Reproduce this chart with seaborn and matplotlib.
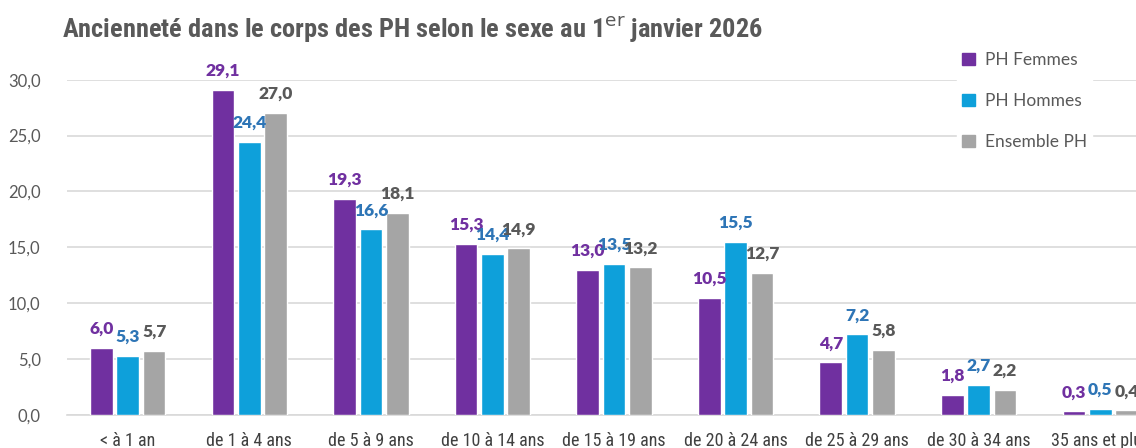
import pandas as pd
import matplotlib.pyplot as plt
import seaborn as sns
from matplotlib import font_manager

# -----------------------------
# Data
# -----------------------------
categories = ["< à 1 an", "de 1 à 4 ans", "de 5 à 9 ans", "de 10 à 14 ans",
              "de 15 à 19 ans", "de 20 à 24 ans", "de 25 à 29 ans",
              "de 30 à 34 ans", "35 ans et plus"]
femmes = [6.0, 29.1, 19.3, 15.3, 13.0, 10.5, 4.7, 1.8, 0.3]
hommes = [5.3, 24.4, 16.6, 14.4, 13.5, 15.5, 7.2, 2.7, 0.5]
ensemble = [5.7, 27.0, 18.1, 14.9, 13.2, 12.7, 5.8, 2.2, 0.4]
series = ["PH Femmes", "PH Hommes", "Ensemble PH"]

df = pd.DataFrame({
    "Ancienneté": categories * 3,
    "Série": [s for s in series for _ in categories],
    "Part": femmes + hommes + ensemble,
})

colors = ["#7030A0", "#0EA0DA", "#A5A5A5"]
label_colors = ["#7030A0", "#2E75B6", "#595959"]

installed = {f.name for f in font_manager.fontManager.ttflist}
narrow = [f for f in ["Liberation Sans Narrow", "DejaVu Sans Condensed",
                      "Roboto Condensed", "Liberation Sans"] if f in installed]
narrow += ["DejaVu Sans"]
plain = ["Lato", "DejaVu Sans"]

sns.set_style("white")
plt.rcParams["font.family"] = narrow

# -----------------------------
# Figure
# -----------------------------
fig = plt.figure(figsize=(11.36, 4.48), dpi=100)
ax = fig.add_axes([0.059, 0.074, 0.963, 0.748])

sns.barplot(
    data=df, x="Ancienneté", y="Part", hue="Série",
    hue_order=series, palette=colors, saturation=1,
    width=0.65, gap=0.14, ax=ax, legend=False, zorder=3,
)

for cont, col in zip(ax.containers, label_colors):
    labels = [f"{v:.1f}".replace(".", ",") for v in cont.datavalues]
    ax.bar_label(cont, labels=labels, padding=8, color=col,
                 fontsize=12.5, fontweight="heavy", family=plain, clip_on=False)

ax.set_ylim(0, 30)
ax.set_xlim(-0.5, len(categories) - 0.5)
ax.set_yticks(range(0, 31, 5))
ax.set_yticklabels([f"{t:.1f}".replace(".", ",") for t in range(0, 31, 5)],
                   family=plain)
ax.yaxis.grid(True, color="#D9D9D9", linewidth=1.2, zorder=0)
ax.set_axisbelow(True)
sns.despine(ax=ax, left=True, top=True, right=True)
ax.spines["bottom"].set_color("#D9D9D9")
ax.spines["bottom"].set_linewidth(1.2)
ax.tick_params(axis="y", length=0, pad=19, labelsize=12, labelcolor="#595959")
ax.tick_params(axis="x", length=0, pad=12, labelsize=13, labelcolor="#404040")
ax.set_xlabel("")
ax.set_ylabel("")

fig.text(0.055, 0.935, "Ancienneté dans le corps des PH selon le sexe au 1$^{\\mathrm{er}}$ janvier 2026",
         fontsize=19, fontweight="bold", color="#595959", va="center")

handles = [plt.Rectangle((0, 0), 1, 1, color=c) for c in colors]
leg = fig.legend(handles, series, loc="upper left", bbox_to_anchor=(0.835, 0.915),
                 frameon=True, facecolor="white", edgecolor="white", framealpha=1,
                 handlelength=0.7, handleheight=0.7,
                 handletextpad=0.6, labelspacing=1.45, borderpad=0.3,
                 prop={"family": plain, "size": 12.5})
for t in leg.get_texts():
    t.set_color("#595959")

plt.savefig("out.png", dpi=100)
plt.close()
